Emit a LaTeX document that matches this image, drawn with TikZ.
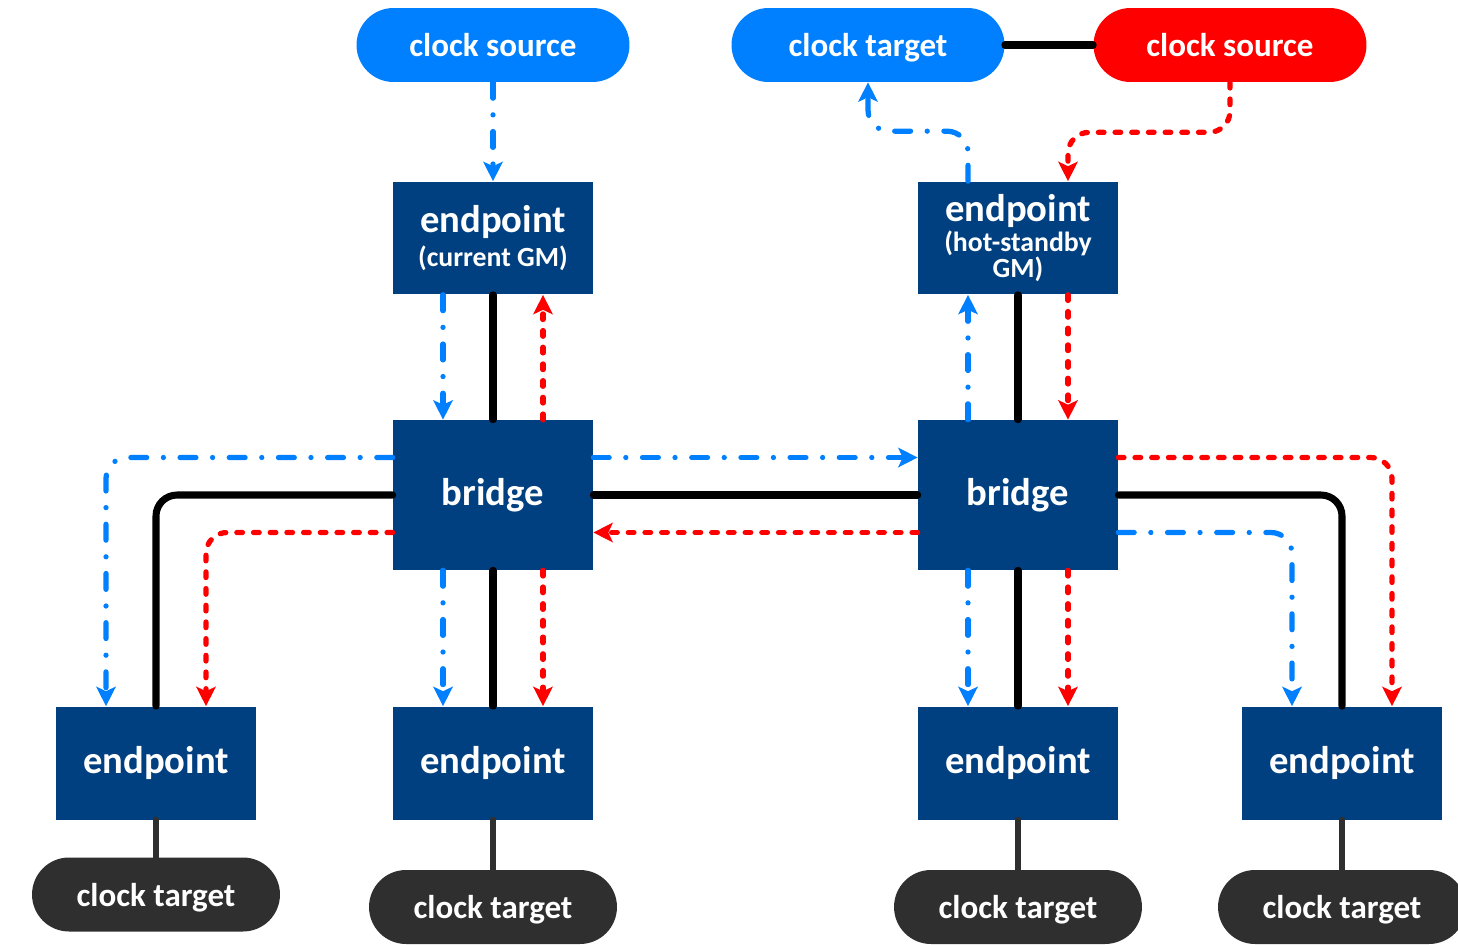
\documentclass[tikz,border=0pt]{standalone}
\usepackage{fontspec}
\setmainfont{Carlito}
\usetikzlibrary{arrows.meta,shapes.misc}
\definecolor{navy}{RGB}{0,64,128}
\definecolor{cblue}{RGB}{0,128,255}
\definecolor{cred}{RGB}{255,0,0}
\definecolor{cdark}{RGB}{47,47,47}
\newcommand{\subf}{\fontsize{15.8}{16}\selectfont}
\tikzset{
  box/.style={fill=navy, text=white, minimum width=4cm, minimum height=2.26cm, inner sep=0pt, align=center,
    font=\bfseries\fontsize{22}{24}\selectfont},
  bbox/.style={box, minimum height=3cm},
  pill/.style={rounded rectangle, minimum width=5.46cm, minimum height=1.48cm, inner sep=0pt, text=white,
    text depth=0pt, font=\bfseries\fontsize{18.8}{20}\selectfont},
  bpill/.style={pill, fill=cblue},
  rpill/.style={pill, fill=cred},
  dpill/.style={pill, fill=cdark, minimum width=4.96cm},
  wire/.style={draw=black, line width=4pt, line cap=round, rounded corners=12pt},
  gwire/.style={draw=cdark, line width=3.6pt, line cap=round},
  tip/.style={-{Stealth[length=11pt,width=11pt,inset=2.5pt]}},
  bl/.style={draw=cblue, line width=3pt, line cap=round, dash pattern=on 9pt off 9.5pt on 0pt off 9.5pt,
    rounded corners=12pt, tip},
  rd/.style={draw=cred, line width=3pt, line cap=round, dash pattern=on 3.2pt off 6.3pt,
    rounded corners=12pt, tip}
}
\begin{document}
\begin{tikzpicture}[x=0.02cm,y=-0.02cm]
\useasboundingbox (0,0) rectangle (1458,944);
% top pills
\node[bpill] (csb) at (493,45) {clock source};
\node[bpill] (ctb) at (868,45) {clock target};
\node[rpill] (csr) at (1230,45) {clock source};
% GM endpoints
\node[box] (egm) at (493,238) {endpoint\\[-5pt]{\subf(current GM)}};
\node[box] (ehs) at (1018,238) {endpoint\\[-7pt]{\subf(hot-standby}\\[-9pt]{\subf GM)}};
% bridges
\node[bbox] (brL) at (493,495) {bridge};
\node[bbox] (brR) at (1018,495) {bridge};
% bottom endpoints
\node[box] (eA) at (156,763) {endpoint};
\node[box] (eB) at (493,763) {endpoint};
\node[box] (eC) at (1018,763) {endpoint};
\node[box] (eD) at (1342,763) {endpoint};
% clock targets
\node[dpill] (tA) at (156,894.5) {clock target};
\node[dpill] (tB) at (493,907) {clock target};
\node[dpill] (tC) at (1018,907) {clock target};
\node[dpill] (tD) at (1342,907) {clock target};

% black wires
\draw[wire] (ctb.east) -- (csr.west);
\draw[wire] (egm) -- (brL);
\draw[wire] (ehs) -- (brR);
\draw[wire] (brL) -- (brR);
\draw[wire] (brL.west) -| (eA.north);
\draw[wire] (brR.east) -| (eD.north);
\draw[wire] (brL) -- (eB);
\draw[wire] (brR) -- (eC);
% endpoint to target
\draw[gwire] (eA.south) -- (tA.north);
\draw[gwire] (eB.south) -- (tB.north);
\draw[gwire] (eC.south) -- (tC.north);
\draw[gwire] (eD.south) -- (tD.north);

% blue (current GM)
\draw[bl] (csb.south) -- (egm.north);
\draw[bl] ([xshift=-1cm]egm.south) -- ([xshift=-1cm]brL.north);
\draw[bl] ([yshift=0.75cm]brL.east) -- ([yshift=0.75cm]brR.west);
\draw[bl] ([yshift=0.75cm]brL.west) -| ([xshift=-1cm]eA.north);
\draw[bl] ([xshift=-1cm]brL.south) -- ([xshift=-1cm]eB.north);
\draw[bl] ([xshift=-1cm]brR.north) -- ([xshift=-1cm]ehs.south);
\draw[bl] ([xshift=-1cm]ehs.north) -- ++(0,-50) -| (ctb.south);
\draw[bl] ([xshift=-1cm]brR.south) -- ([xshift=-1cm]eC.north);
\draw[bl] ([yshift=-0.75cm]brR.east) -| ([xshift=-1cm]eD.north);

% red (hot-standby)
\draw[rd] (csr.south) -- ++(0,50) -| ([xshift=1cm]ehs.north);
\draw[rd] ([xshift=1cm]ehs.south) -- ([xshift=1cm]brR.north);
\draw[rd] ([yshift=-0.75cm]brR.west) -- ([yshift=-0.75cm]brL.east);
\draw[rd] ([xshift=1cm]brL.north) -- ([xshift=1cm]egm.south);
\draw[rd] ([yshift=-0.75cm]brL.west) -| ([xshift=1cm]eA.north);
\draw[rd] ([xshift=1cm]brL.south) -- ([xshift=1cm]eB.north);
\draw[rd] ([xshift=1cm]brR.south) -- ([xshift=1cm]eC.north);
\draw[rd] ([yshift=0.75cm]brR.east) -| ([xshift=1cm]eD.north);
\end{tikzpicture}
\end{document}
